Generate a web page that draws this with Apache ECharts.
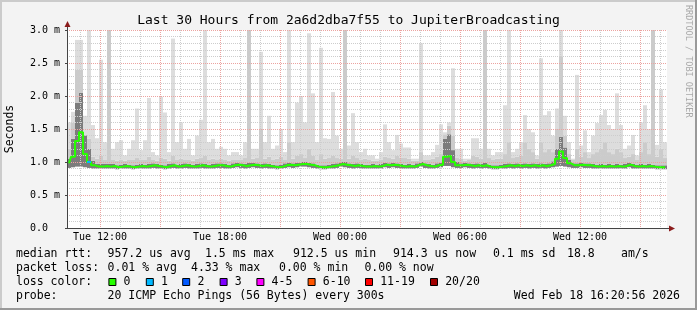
<!DOCTYPE html>
<html><head><meta charset="utf-8">
<script src="https://cdn.jsdelivr.net/npm/echarts@6/dist/echarts.min.js"></script>
<style>html,body{margin:0;padding:0;background:#f3f3f3}#c{width:697px;height:310px}</style>
</head><body><div id="c"></div>
<script>
// ---------------- data ----------------
const titleText = 'Last 30 Hours from 2a6d2dba7f55 to JupiterBroadcasting';
const startHour = 10 + 20 / 60 + 56 / 3600;   // Tue 10:20:56, hours since Tue 00:00
const spanHours = 30;
const stepHours = 0.2;                         // one consolidated step = 12 min

// median round-trip time per step (ms)
const median = [
0.98,1.08,1.32,1.45,1.12,1.00,0.95,0.93,0.93,0.94,
0.93,0.94,0.92,0.93,0.94,0.93,0.92,0.93,0.94,0.93,
0.94,0.95,0.94,0.93,0.92,0.94,0.95,0.93,0.94,0.95,
0.94,0.93,0.94,0.95,0.94,0.93,0.94,0.95,0.95,0.94,
0.93,0.95,0.96,0.95,0.94,0.95,0.96,0.95,0.94,0.95,
0.94,0.93,0.92,0.93,0.95,0.96,0.95,0.96,0.97,0.97,
0.96,0.95,0.93,0.92,0.92,0.93,0.94,0.95,0.97,0.96,
0.95,0.94,0.95,0.94,0.93,0.93,0.94,0.93,0.94,0.96,
0.95,0.96,0.95,0.94,0.93,0.94,0.93,0.95,0.97,0.95,
0.94,0.93,0.95,0.96,1.08,1.09,1.00,0.95,0.95,0.96,
0.95,0.94,0.95,0.94,0.95,0.93,0.92,0.92,0.93,0.94,
0.95,0.94,0.95,0.94,0.95,0.94,0.95,0.94,0.95,0.94,
0.95,0.97,1.05,1.16,1.06,0.98,0.95,0.95,0.96,0.95,
0.95,0.94,0.93,0.94,0.93,0.94,0.93,0.94,0.93,0.94,
0.96,0.94,0.93,0.94,0.93,0.94,0.93,0.92,0.92,0.92];

// fastest ping per step (ms)
const minPing = [
0.91,0.92,0.93,0.93,0.92,0.91,0.90,0.90,0.90,0.90,
0.90,0.90,0.89,0.90,0.90,0.90,0.89,0.90,0.90,0.90,
0.90,0.91,0.90,0.90,0.89,0.90,0.91,0.90,0.90,0.91,
0.90,0.90,0.90,0.91,0.90,0.90,0.90,0.91,0.91,0.90,
0.90,0.91,0.92,0.91,0.90,0.91,0.92,0.91,0.90,0.91,
0.90,0.90,0.89,0.90,0.91,0.92,0.91,0.92,0.93,0.93,
0.92,0.91,0.90,0.89,0.89,0.90,0.90,0.91,0.93,0.92,
0.91,0.90,0.91,0.90,0.90,0.90,0.90,0.90,0.90,0.92,
0.91,0.92,0.91,0.90,0.90,0.90,0.90,0.91,0.93,0.91,
0.90,0.90,0.91,0.92,0.94,0.94,0.92,0.91,0.91,0.92,
0.91,0.90,0.91,0.90,0.91,0.90,0.89,0.89,0.90,0.90,
0.91,0.90,0.91,0.90,0.91,0.90,0.91,0.90,0.91,0.90,
0.91,0.92,0.93,0.94,0.93,0.92,0.91,0.91,0.92,0.91,
0.91,0.90,0.90,0.90,0.90,0.90,0.90,0.90,0.90,0.90,
0.92,0.90,0.90,0.90,0.90,0.90,0.90,0.89,0.89,0.89];

// top of the dense (dark) smoke per step (ms)
const darkTop = [
1.05,1.35,1.90,2.05,1.55,1.20,1.02,0.97,0.97,0.97,
0.97,0.97,0.95,0.96,0.97,0.96,0.95,0.96,0.97,0.96,
0.97,0.98,0.97,0.96,0.95,0.97,0.98,0.96,0.97,0.98,
0.97,0.96,0.97,0.98,0.97,0.96,0.97,0.98,0.98,0.97,
0.96,0.98,0.99,0.98,0.97,0.99,0.99,0.98,0.97,0.98,
0.97,0.96,0.95,0.96,0.98,0.99,0.98,0.99,1.00,1.00,
0.99,0.98,0.96,0.95,0.95,0.96,0.97,0.98,1.00,1.00,
0.98,0.97,0.98,0.97,0.96,0.96,0.97,0.96,0.97,0.99,
0.98,0.99,0.98,0.97,0.96,0.97,0.96,0.98,1.00,0.98,
0.97,0.96,0.98,1.00,1.35,1.42,1.18,1.00,0.98,0.99,
0.98,0.97,0.98,0.97,0.99,0.96,0.95,0.95,0.96,0.97,
0.98,0.97,0.98,0.97,0.98,0.97,0.98,0.97,0.98,0.97,
0.98,1.01,1.20,1.38,1.22,1.03,0.98,0.98,0.99,0.98,
0.98,0.97,0.96,0.97,0.96,0.97,0.96,0.97,0.96,0.97,
0.99,0.97,0.96,0.97,0.96,0.97,0.96,0.95,0.95,0.95];

// top of the medium smoke per step (ms)
const midTop = [
1.20,1.60,2.40,2.40,1.40,1.35,1.08,1.05,1.10,1.04,
3.20,1.03,1.02,1.04,1.02,1.03,1.04,1.06,1.03,1.04,
1.08,1.03,1.02,1.06,1.05,1.02,1.10,1.04,1.05,1.03,
1.04,1.02,1.05,1.06,1.10,1.04,1.05,1.03,1.05,1.04,
1.02,1.03,1.04,1.03,1.06,3.20,1.05,1.06,1.50,1.05,
1.08,1.04,1.05,1.08,1.03,1.30,1.05,1.10,1.12,1.06,
1.20,1.10,1.04,1.12,1.05,1.06,1.10,1.06,1.05,3.20,
1.05,1.10,1.06,1.04,1.05,1.03,1.02,1.02,1.04,1.08,
1.06,1.05,1.10,1.07,1.06,1.05,1.02,1.02,1.15,1.04,
1.03,1.05,1.08,1.12,1.42,1.55,1.40,1.06,1.05,1.02,
1.03,1.10,1.08,1.05,3.20,1.06,1.04,1.05,1.05,1.12,
1.30,1.06,1.08,1.10,1.30,1.20,1.15,1.05,1.30,1.15,
1.20,1.15,1.50,2.60,1.40,1.12,1.03,1.20,1.08,1.15,
1.06,1.12,1.15,1.20,1.30,1.15,1.12,1.20,1.15,1.06,
1.08,1.12,1.04,1.15,1.30,1.12,3.20,1.08,1.20,1.06];

// slowest ping per step (ms)
const maxPing = [
1.60,1.76,2.85,2.85,1.70,3.20,1.56,1.36,2.55,1.30,
3.20,1.20,1.30,1.33,1.10,1.20,1.33,1.81,1.18,1.33,
1.97,1.15,1.10,1.99,1.75,1.15,2.87,1.30,1.60,1.20,
1.35,1.10,1.40,1.64,3.20,1.30,1.35,1.20,1.23,1.20,
1.10,1.15,1.15,1.10,1.30,3.20,1.20,1.20,2.67,1.30,
1.70,1.20,1.25,1.50,1.15,3.20,1.30,1.90,2.00,1.60,
2.95,2.04,1.30,2.73,1.36,1.35,2.06,1.40,1.20,3.20,
1.25,1.74,1.30,1.15,1.20,1.10,1.10,1.05,1.15,1.57,
1.30,1.18,1.41,1.28,1.22,1.22,1.05,1.05,2.80,1.10,
1.10,1.15,1.26,1.57,1.45,1.60,2.42,1.20,1.20,1.05,
1.05,1.36,1.36,1.20,3.20,1.20,1.10,1.15,1.15,1.86,
3.20,1.15,1.20,1.30,1.71,1.50,1.45,1.10,2.57,1.71,
1.77,1.40,1.81,3.20,1.70,1.30,1.05,2.32,1.25,1.48,
1.15,1.40,1.59,1.71,1.79,1.56,1.50,2.04,1.56,1.20,
1.25,1.41,1.10,1.60,1.86,1.50,3.20,1.26,2.10,1.30];

// steps with packet loss (index into the arrays above) and lost pings
const lossStepIndex = [5];
const lossStepPings = [1];

// loss colour legend
const lossLabels = ['0', '1', '2', '3', '4-5', '6-10', '11-19', '20/20'];
const lossColors = ['#26ff00', '#00b8ff', '#0059ff', '#7e00ff', '#ff00ff', '#ff5500', '#ff0000', '#a10000'];
const lossBucketMax = [0, 1, 2, 3, 5, 10, 19, 20];

// axis ticks (hours since Tue 00:00)
const minorTickHours = [11,12,13,14,15,16,17,18,19,20,21,22,23,24,25,26,27,28,29,30,31,32,33,34,35,36,37,38,39,40];
const majorTickHours = [12,15,18,21,24,27,30,33,36,39];
const labelTickHours = [12, 18, 24, 30, 36];
const tickLabels = ['Tue 12:00', 'Tue 18:00', 'Wed 00:00', 'Wed 06:00', 'Wed 12:00'];

// statistics text
const statRows = [
  ['median rtt:', '957.2 us avg', '1.5 ms max', '912.5 us min', '914.3 us now', '0.1 ms sd', '18.8', 'am/s'],
  ['packet loss:', '0.01 % avg', '4.33 % max', '0.00 % min', '0.00 % now']
];
const lossRowTitle = 'loss color:';
const probeRow = ['probe:', '20 ICMP Echo Pings (56 Bytes) every 300s'];
const stampText = 'Wed Feb 18 16:20:56 2026';
const creditText = 'RRDTOOL / TOBI OETIKER';

// ---------------- layout ----------------
const W = 697, H = 310;
const G = {left: 67, right: 30, top: 30, bottom: 82};
const MONO = '"DejaVu Sans Mono", monospace';
const rowY = [254, 268, 282, 296];
const statX = [[16, 107.6, 205, 293, 393, 493, 567, 621], [16, 107.6, 191, 279, 364.4]];
const boxX = [108.4, 145.8, 182.2, 219.6, 256.4, 307.6, 365, 430];
const yMax = 3;

const chart = echarts.init(document.getElementById('c'), null, {renderer: 'canvas', width: W, height: H});

const xs = median.map((_, i) => startHour + (i + 0.5) * stepHours);
const pairs = arr => arr.map((v, i) => [xs[i], v]);

const minorGrid = '#cdcdcd', majorGrid = '#eca3a0', axisCol = '#444444';
const smokeColors = ['#7c7c7c', '#cbcbcb', '#dddddd'];
const xMin = startHour, xMax = startHour + spanHours;
const xCommon = {type: 'value', min: xMin, max: xMax, gridIndex: 0, position: 'bottom'};

function lossColor(n) {
  for (let k = 0; k < lossBucketMax.length; k++) if (n <= lossBucketMax[k]) return lossColors[k];
  return lossColors[lossColors.length - 1];
}

// smoke: one custom item per step, bands between min / dark / mid / max
const smokeData = xs.map((x, i) => [x, minPing[i], darkTop[i], midTop[i], maxPing[i]]);
function renderSmoke(params, api) {
  const x = api.value(0);
  const w = api.size([stepHours, 0])[0];
  const lv = [1, 2, 3, 4].map(d => Math.min(api.value(d), yMax));
  const children = [];
  for (let b = 0; b < 3; b++) {
    const lo = api.coord([x, lv[b]]), hi = api.coord([x, lv[b + 1]]);
    if (lo[1] - hi[1] <= 0) continue;
    children.push({type: 'rect', shape: {x: lo[0] - w / 2, y: hi[1], width: w, height: lo[1] - hi[1]}, style: {fill: smokeColors[b]}});
  }
  return {type: 'group', children: children};
}

const series = [
  {type: 'custom', renderItem: renderSmoke, data: smokeData, encode: {x: 0, y: [1, 4]}, silent: true, z: 1},
  {type: 'line', data: pairs(median), step: 'middle', symbol: 'none', lineStyle: {color: lossColors[0], width: 2}, z: 6}
];
lossStepIndex.forEach((s, k) => {
  series.push({
    type: 'line', symbol: 'none', z: 7,
    data: [[xs[s] - stepHours / 2, median[s]], [xs[s] + stepHours / 2, median[s]]],
    lineStyle: {color: lossColor(lossStepPings[k]), width: 2}
  });
});

const graphic = [
  {type: 'line', shape: {x1: 0, y1: 1, x2: W, y2: 1}, style: {stroke: '#cbcbcb', lineWidth: 2}},
  {type: 'line', shape: {x1: 1, y1: 0, x2: 1, y2: H}, style: {stroke: '#cbcbcb', lineWidth: 2}},
  {type: 'line', shape: {x1: 0, y1: H - 1, x2: W, y2: H - 1}, style: {stroke: '#999999', lineWidth: 2}},
  {type: 'line', shape: {x1: W - 1, y1: 0, x2: W - 1, y2: H}, style: {stroke: '#999999', lineWidth: 2}},
  // axis arrows
  {type: 'line', shape: {x1: G.left + 0.5, y1: 26, x2: G.left + 0.5, y2: G.top}, style: {stroke: axisCol, lineWidth: 1}, z: 10},
  {type: 'polygon', shape: {points: [[G.left + 0.5, 21], [G.left - 2.5, 27], [G.left + 3.5, 27]]}, style: {fill: '#8b1c1c'}, z: 10},
  {type: 'line', shape: {x1: W - G.right, y1: H - G.bottom + 0.5, x2: W - G.right + 3, y2: H - G.bottom + 0.5}, style: {stroke: axisCol, lineWidth: 1}, z: 10},
  {type: 'polygon', shape: {points: [[W - G.right + 8, H - G.bottom + 0.5], [W - G.right + 2, H - G.bottom - 2.5], [W - G.right + 2, H - G.bottom + 3.5]]}, style: {fill: '#8b1c1c'}, z: 10},
  // credit
  {type: 'text', x: 688, y: 5, rotation: -Math.PI / 2, style: {text: creditText, font: '8.5px ' + MONO, fill: '#a9a9a9', align: 'left', verticalAlign: 'middle'}}
];
statRows.forEach((row, r) => row.forEach((t, c) => {
  graphic.push({type: 'text', x: statX[r][c], y: rowY[r], style: {text: t, font: '11.5px ' + MONO, fill: '#000', align: 'left', verticalAlign: 'middle'}});
}));
graphic.push({type: 'text', x: 16, y: rowY[2], style: {text: lossRowTitle, font: '11.5px ' + MONO, fill: '#000', align: 'left', verticalAlign: 'middle'}});
lossLabels.forEach((lab, k) => {
  graphic.push({type: 'rect', shape: {x: boxX[k] + 0.5, y: rowY[2] - 3.5, width: 7, height: 7}, style: {fill: lossColors[k], stroke: '#000', lineWidth: 1}});
  graphic.push({type: 'text', x: boxX[k] + 15.2, y: rowY[2], style: {text: lab, font: '11.5px ' + MONO, fill: '#000', align: 'left', verticalAlign: 'middle'}});
});
graphic.push({type: 'text', x: 16, y: rowY[3], style: {text: probeRow[0], font: '11.5px ' + MONO, fill: '#000', align: 'left', verticalAlign: 'middle'}});
graphic.push({type: 'text', x: 107.6, y: rowY[3], style: {text: probeRow[1], font: '11.5px ' + MONO, fill: '#000', align: 'left', verticalAlign: 'middle'}});
graphic.push({type: 'text', x: 680, y: rowY[3], style: {text: stampText, font: '11.5px ' + MONO, fill: '#000', align: 'right', verticalAlign: 'middle'}});

chart.setOption({
  animation: false,
  backgroundColor: '#f3f3f3',
  title: {text: titleText, left: 'center', top: 9, textStyle: {fontFamily: MONO, fontSize: 13, fontWeight: 'normal', color: '#000'}},
  grid: {left: G.left, right: G.right, top: G.top, bottom: G.bottom, show: true, backgroundColor: '#ffffff', borderWidth: 0,
         containLabel: false, outerBoundsMode: 'none'},
  xAxis: [
    Object.assign({}, xCommon, {
      z: 3,
      axisLine: {show: true, lineStyle: {color: axisCol}},
      axisTick: {show: false, customValues: minorTickHours},
      axisLabel: {show: false},
      splitLine: {show: true, lineStyle: {color: minorGrid, type: [1, 1]}}
    }),
    Object.assign({}, xCommon, {
      z: 3,
      axisLine: {show: false},
      axisTick: {show: false, customValues: majorTickHours},
      axisLabel: {show: false},
      splitLine: {show: true, lineStyle: {color: majorGrid, type: [1, 1]}}
    }),
    Object.assign({}, xCommon, {
      z: 3,
      axisLine: {show: false},
      axisTick: {show: false, customValues: labelTickHours},
      axisLabel: {show: true, customValues: labelTickHours, margin: 4, fontFamily: MONO, fontSize: 10, color: '#000',
        formatter: v => tickLabels[labelTickHours.indexOf(Math.round(v))] || ''},
      splitLine: {show: false}
    })
  ],
  yAxis: {
    type: 'value', min: 0, max: yMax, interval: 0.5, z: 3,
    axisLine: {show: true, lineStyle: {color: axisCol}},
    axisTick: {show: true, length: 2, lineStyle: {color: axisCol}},
    axisLabel: {margin: 7, fontFamily: MONO, fontSize: 10, color: '#000',
      formatter: v => v === 0 ? '0.0  ' : v.toFixed(1) + ' m'},
    splitLine: {show: true, lineStyle: {color: majorGrid, type: [1, 1]}},
    minorTick: {show: false, splitNumber: 5},
    minorSplitLine: {show: true, lineStyle: {color: minorGrid, type: [1, 1]}},
    name: 'Seconds', nameLocation: 'middle', nameGap: 51, nameRotate: 90,
    nameTextStyle: {fontFamily: MONO, fontSize: 11.5, color: '#000'}
  },
  series: series,
  graphic: graphic
});
</script>
</body></html>
